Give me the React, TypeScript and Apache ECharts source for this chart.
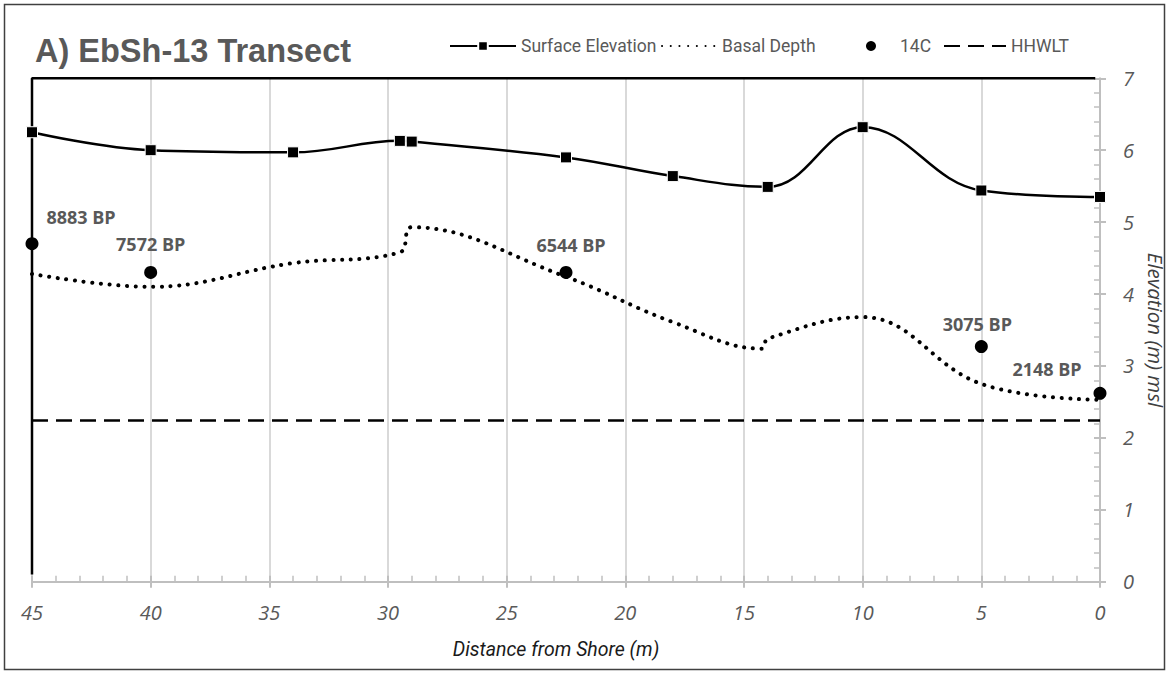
import React, { useEffect, useRef } from "react";
import * as echarts from "echarts";

// ---- Data ----
const titleText = "A) EbSh-13 Transect";
const seriesNames = ["Surface Elevation", "Basal Depth", "14C", "HHWLT"];
const xAxisTitle = "Distance from Shore (m)";
const yAxisTitle = "Elevation (m) msl";

const xMin = 0;
const xMax = 45;
const xInterval = 5;
const yMin = 0;
const yMax = 7;
const yInterval = 1;

const surfaceX = [45, 40, 34, 29.5, 29, 22.5, 18, 14, 10, 5, 0];
const surfaceY = [6.25, 6.0, 5.97, 6.13, 6.12, 5.9, 5.64, 5.49, 6.32, 5.44, 5.35];

const basalX = [45, 40, 34, 29.5, 29, 22.5, 18, 14.25, 14, 10, 5, 0];
const basalY = [4.28, 4.1, 4.43, 4.58, 4.93, 4.24, 3.61, 3.24, 3.38, 3.68, 2.75, 2.53];

const c14X = [45, 40, 22.5, 5, 0];
const c14Y = [4.7, 4.3, 4.3, 3.27, 2.62];
const c14Labels = ["8883 BP", "7572 BP", "6544 BP", "3075 BP", "2148 BP"];

const hhwltX = [45, 0];
const hhwltY = [2.24, 2.24];

const frameX = [45, 45, 0.2];
const frameY = [0.1, 7, 7];

// ---- Layout / style (not data) ----
const labelOffsets = [
  [49, -27],
  [0, -28],
  [5, -27],
  [-4, -23],
  [-53, -24],
];

const gray = "#595959";
const axisGray = "#bfbfbf";
const gridGray = "#d9d9d9";
const narrowFont = "Roboto, 'Liberation Sans', sans-serif";
const calFont = "'Open Sans', 'Noto Sans', sans-serif";

const zip = (xs: number[], ys: number[]) => xs.map((x, i) => [x, ys[i]]);

function buildOption(): any {
  const tickLabel = {
    fontFamily: calFont,
    fontStyle: "italic",
    fontSize: 20,
    color: gray,
  };
  const legendText = { fontFamily: narrowFont, fontSize: 17.5, color: gray };
  const legendBase = {
    top: 37,
    padding: 0,
    itemGap: 0,
    selectedMode: false,
    textStyle: legendText,
  };

  return {
    animation: false,
    backgroundColor: "#ffffff",
    graphic: [
      {
        type: "rect",
        silent: true,
        z: -10,
        shape: { x: 4.5, y: 4.5, width: 1160, height: 665 },
        style: { fill: "none", stroke: "#404040", lineWidth: 1.5 },
      },
      {
        type: "text",
        x: 35,
        y: 51,
        silent: true,
        style: {
          text: titleText,
          font: "bold 32.5px 'Liberation Sans', Arial, sans-serif",
          fill: gray,
          verticalAlign: "middle",
          align: "left",
        },
      },
    ],
    legend: [
      { ...legendBase, data: [seriesNames[0]], left: 449, itemWidth: 66, itemHeight: 12 },
      {
        ...legendBase,
        data: [seriesNames[1]],
        left: 661,
        itemWidth: 55,
        itemHeight: 12,
        itemStyle: { opacity: 0 },
      },
      {
        ...legendBase,
        data: [{ name: seriesNames[2], icon: "circle" }],
        left: 866,
        itemWidth: 10,
        itemHeight: 10,
        textStyle: { ...legendText, padding: [0, 0, 0, 19] },
      },
      {
        ...legendBase,
        data: [seriesNames[3]],
        left: 943,
        itemWidth: 62,
        itemHeight: 12,
        itemStyle: { opacity: 0 },
      },
    ],
    grid: {
      left: 32,
      right: 69,
      top: 78.3,
      bottom: 92.3,
      containLabel: false,
      outerBoundsMode: "none",
    },
    xAxis: [
      {
        type: "value",
        min: xMin,
        max: xMax,
        interval: xInterval,
        inverse: true,
        position: "bottom",
        axisLine: { show: true, onZero: false, lineStyle: { color: axisGray, width: 2 } },
        axisTick: { show: true, inside: true, length: 6, lineStyle: { color: axisGray, width: 2 } },
        minorTick: { show: true, splitNumber: 5, length: 6, lineStyle: { color: axisGray, width: 1.5 } },
        splitLine: { show: true, lineStyle: { color: gridGray, width: 2 } },
        minorSplitLine: { show: false },
        axisLabel: { ...tickLabel, margin: 21 },
        name: xAxisTitle,
        nameLocation: "middle",
        nameGap: 58,
        nameTextStyle: {
          fontFamily: narrowFont,
          fontStyle: "italic",
          fontSize: 19.5,
          color: "#1a1a1a",
          padding: [0, 20, 0, 0],
        },
      },
      {
        type: "value",
        min: xMin,
        max: xMax,
        interval: xInterval,
        inverse: true,
        position: "bottom",
        axisLine: { show: false, onZero: false },
        axisTick: { show: true, inside: false, length: 6, lineStyle: { color: axisGray, width: 2 } },
        splitLine: { show: false },
        axisLabel: { show: false },
      },
    ],
    yAxis: [
      {
        type: "value",
        min: yMin,
        max: yMax,
        interval: yInterval,
        position: "right",
        axisLine: { show: true, onZero: false, lineStyle: { color: axisGray, width: 2 } },
        axisTick: { show: true, inside: true, length: 6, lineStyle: { color: axisGray, width: 2 } },
        minorTick: { show: true, splitNumber: 5, length: 6, lineStyle: { color: axisGray, width: 1.5 } },
        splitLine: { show: false },
        axisLabel: { ...tickLabel, margin: 23 },
        name: yAxisTitle,
        nameLocation: "middle",
        nameRotate: -90,
        nameGap: 40,
        nameTextStyle: {
          fontFamily: calFont,
          fontStyle: "italic",
          fontSize: 20.5,
          color: "#404040",
          lineHeight: 22,
        },
      },
      {
        type: "value",
        min: yMin,
        max: yMax,
        interval: yInterval,
        position: "right",
        axisLine: { show: false, onZero: false },
        axisTick: { show: true, inside: false, length: 6, lineStyle: { color: axisGray, width: 2 } },
        splitLine: { show: false },
        axisLabel: { show: false },
      },
    ],
    series: [
      {
        name: seriesNames[3],
        type: "line",
        data: zip(hhwltX, hhwltY),
        symbol: "none",
        silent: true,
        lineStyle: { color: "#000", width: 2.5, type: [16, 8] },
        z: 2,
      },
      {
        name: seriesNames[1],
        type: "line",
        data: zip(basalX, basalY),
        symbol: "none",
        smooth: 0.4,
        silent: true,
        lineStyle: { color: "#000", width: 4, type: [0.1, 8.6], cap: "round" },
        z: 3,
      },
      {
        name: "frame",
        type: "line",
        data: zip(frameX, frameY),
        symbol: "none",
        clip: false,
        silent: true,
        lineStyle: { color: "#000", width: 2.5 },
        z: 3,
      },
      {
        name: seriesNames[0],
        type: "line",
        data: zip(surfaceX, surfaceY),
        symbol: "rect",
        symbolSize: 11,
        showSymbol: true,
        smooth: 0.4,
        silent: true,
        lineStyle: { color: "#000", width: 2.5 },
        itemStyle: { color: "#000", borderColor: "#fff", borderWidth: 1 },
        z: 4,
      },
      {
        name: seriesNames[2],
        type: "scatter",
        symbol: "circle",
        symbolSize: 13,
        silent: true,
        itemStyle: { color: "#000", opacity: 1 },
        z: 5,
        data: c14X.map((x, i) => ({
          name: c14Labels[i],
          value: [x, c14Y[i]],
          label: { offset: labelOffsets[i] },
        })),
        label: {
          show: true,
          position: "inside",
          formatter: (p: any) => p.name,
          fontFamily: calFont,
          fontWeight: "bold",
          fontSize: 18,
          color: gray,
          opacity: 1,
          textBorderWidth: 0,
        },
      },
    ],
  };
}

export default function App() {
  const ref = useRef<HTMLDivElement>(null);
  useEffect(() => {
    if (!ref.current) return;
    const chart = echarts.init(ref.current, null, { renderer: "svg" });
    chart.setOption(buildOption());
    return () => {
      chart.dispose();
    };
  }, []);
  return (
    <div
      ref={ref}
      style={{ position: "fixed", left: 0, top: 0, width: 1169, height: 674, background: "#fff" }}
    />
  );
}
